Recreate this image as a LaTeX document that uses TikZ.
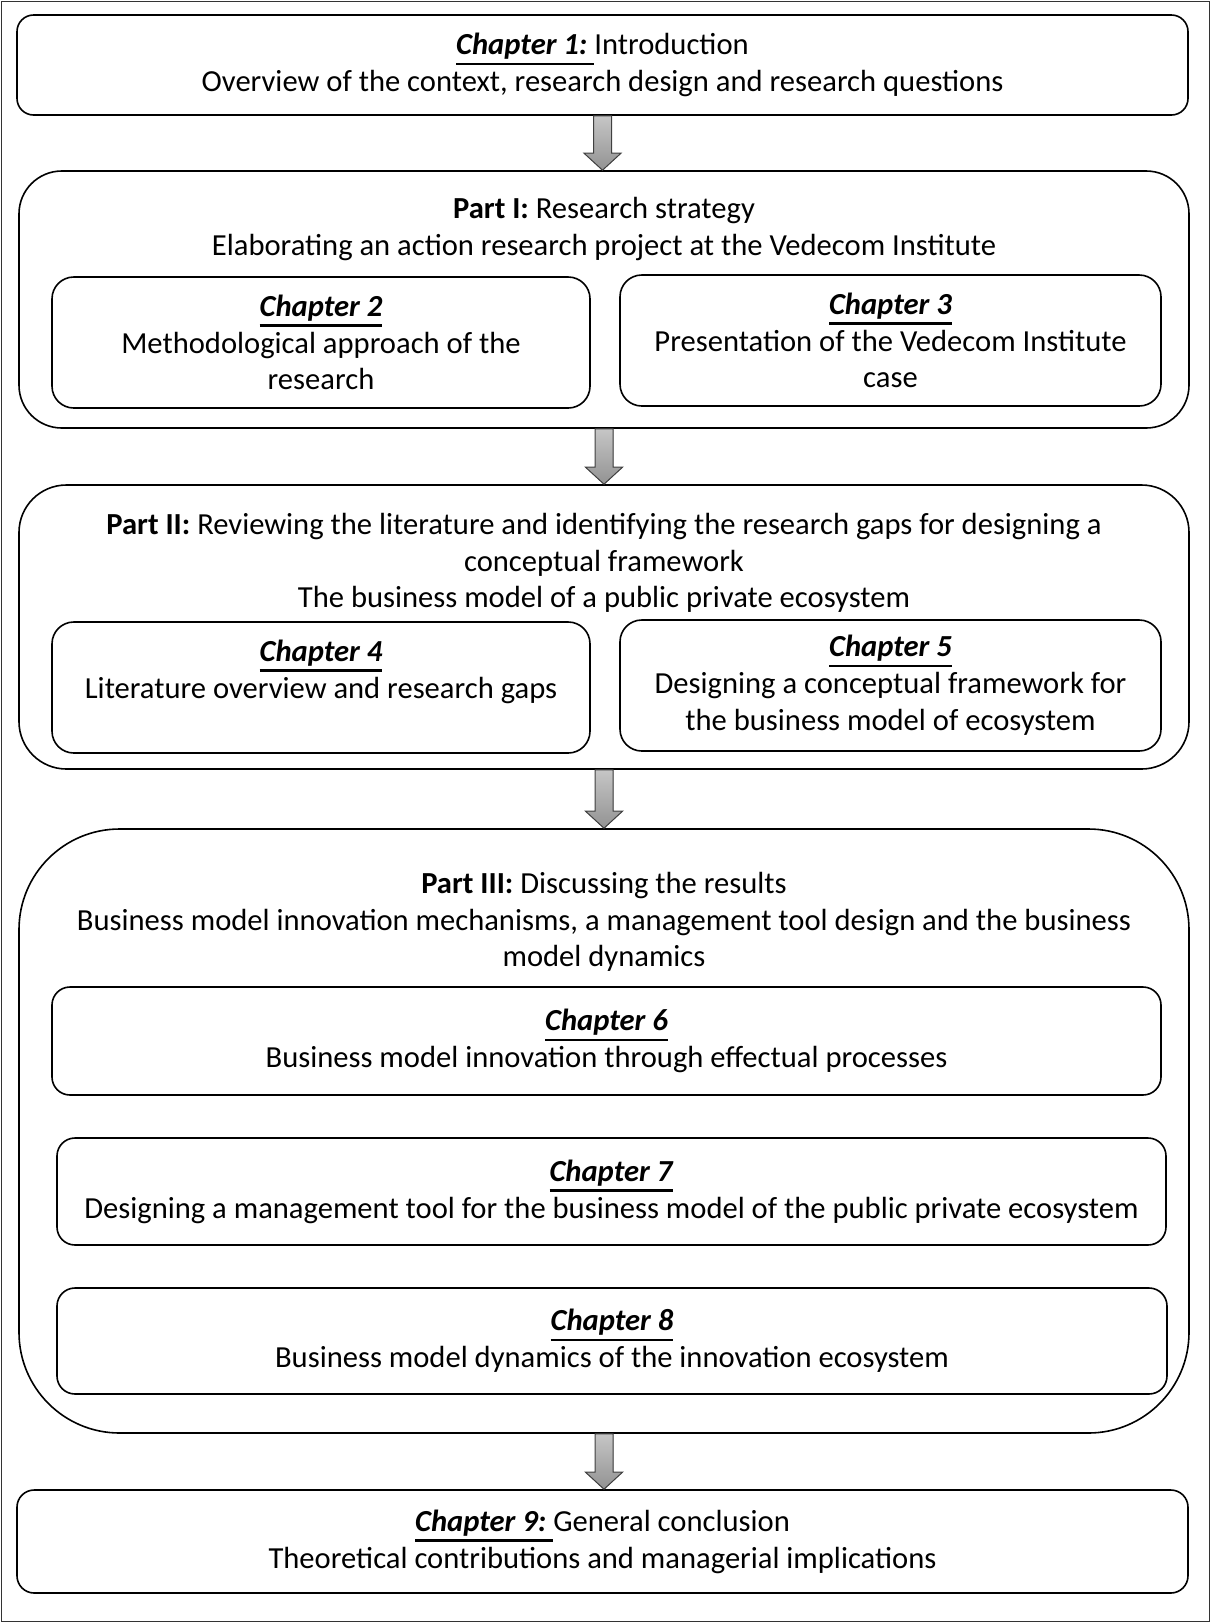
\documentclass[tikz,border=0pt]{standalone}
\usepackage{fontspec}
\setmainfont{Carlito}
\usetikzlibrary{calc}
\tikzset{>=stealth}

\tikzset{
  box/.style={draw, line width=0.8pt, inner sep=0pt, align=center},
  boxsize/.style 2 args={minimum width=#1*0.5pt, minimum height=#2*0.5pt},
  bigarrow/.style={draw=black!75, line width=0.5pt, top color=gray!45, bottom color=gray!85},
}
\newcommand{\chap}[1]{\setbox0\hbox{\textbf{\textit{#1}}}\rlap{\rule[-5.2pt]{\wd0}{1.2pt}}\box0}

\begin{document}
\begin{tikzpicture}[x=0.5pt, y=-0.5pt, font=\fontsize{15.3}{18.4}\selectfont]
\useasboundingbox (0,0) rectangle (1212,1624);
\draw[line width=0.9pt, black!80] (1.5,1.5) rectangle (1209.5,1621.5);

% introduction
\node[box, rounded corners=8.3pt, boxsize={1171}{100}] (ch1) at (602.5,65) {\chap{Chapter 1:\ }Introduction\\Overview of the context, research design and research questions};

% part I
\node[box, rounded corners=21.4pt, boxsize={1170}{257}] (p1) at (604,299.5) {};
\node[align=center] (p1title) at (604,229) {\textbf{Part I:} Research strategy\\Elaborating an action research project at the Vedecom Institute};
\node[box, rounded corners=10.9pt, boxsize={538}{131}] (ch2) at (321,342.5) {\chap{Chapter 2}\\Methodological approach of the\\research};
\node[box, rounded corners=10.9pt, boxsize={541}{131}] (ch3) at (890.5,340.5) {\chap{Chapter 3}\\Presentation of the Vedecom Institute\\case};

% part II
\node[box, rounded corners=23.7pt, boxsize={1170}{284}] (p2) at (604,627) {};
\node[align=center] (p2title) at (604,563) {\textbf{Part II:} Reviewing the literature and identifying the research gaps for designing a\\conceptual framework\\The business model of a public private ecosystem};
\node[box, rounded corners=10.9pt, boxsize={538}{131}] (ch4) at (321,687.5) {\chap{Chapter 4}\\Literature overview and research gaps\\~};
\node[box, rounded corners=10.9pt, boxsize={541}{131}] (ch5) at (890.5,685.5) {\chap{Chapter 5}\\Designing a conceptual framework for\\the business model of ecosystem};

% part III
\node[box, rounded corners=50.3pt, boxsize={1170}{604}] (p3) at (604,1131) {};
\node[align=center] (p3title) at (604,922) {\textbf{Part III:} Discussing the results\\Business model innovation mechanisms, a management tool design and the business\\model dynamics};
\node[box, rounded corners=9pt, boxsize={1109}{108}] (ch6) at (606.5,1041) {\chap{Chapter 6}\\Business model innovation through effectual processes};
\node[box, rounded corners=9pt, boxsize={1109}{107}] (ch7) at (611.5,1191.5) {\chap{Chapter 7}\\Designing a management tool for the business model of the public private ecosystem};
\node[box, rounded corners=9pt, boxsize={1110}{106}] (ch8) at (612,1341) {\chap{Chapter 8}\\Business model dynamics of the innovation ecosystem};

% conclusion
\node[box, rounded corners=8.6pt, boxsize={1171}{103}] (ch9) at (602.5,1541.5) {\chap{Chapter 9:\ }General conclusion\\Theoretical contributions and managerial implications};

% block arrows
\foreach \a/\b in {ch1/p1, p1/p2, p2/p3, p3/ch9}
  \filldraw[bigarrow] ($(\a.south)+(-9,0)$) -- ($(\b.north -| \a.south)+(-9,-17)$)
    -- ($(\b.north -| \a.south)+(-18.5,-17)$) -- (\b.north -| \a.south)
    -- ($(\b.north -| \a.south)+(18.5,-17)$) -- ($(\b.north -| \a.south)+(9,-17)$)
    -- ($(\a.south)+(9,0)$) -- cycle;
\end{tikzpicture}
\end{document}
